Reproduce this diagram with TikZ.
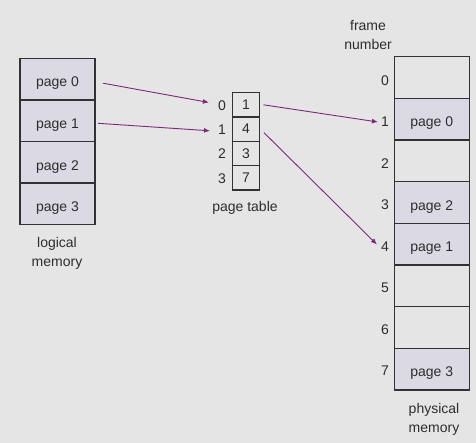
\documentclass[tikz,border=0pt]{standalone}
\usepackage{fontspec}
\setmainfont{Liberation Sans}
\usetikzlibrary{arrows.meta}
\definecolor{bg}{RGB}{229,229,229}
\definecolor{cellfill}{RGB}{219,217,227}
\definecolor{edge}{RGB}{50,50,50}
\definecolor{arr}{RGB}{125,40,125}
\definecolor{txt}{RGB}{45,45,45}
\begin{document}
\begin{tikzpicture}[x=1pt,y=-1pt,
  font=\fontsize{14}{16}\selectfont, text=txt,
  memcell/.style={draw=edge, line width=1.4pt, minimum width=75pt, minimum height=41.6pt, inner sep=0pt, outer sep=0pt, text height=15.5pt, text depth=0pt},
  full/.style={memcell, fill=cellfill},
  emptycell/.style={memcell},
  ptcell/.style={draw=edge, line width=1.4pt, minimum width=27pt, minimum height=24.3pt, inner sep=0pt, outer sep=0pt},
  lbl/.style={inner sep=0pt},
  link/.style={draw=arr, line width=0.9pt, -{Latex[length=6pt,width=5pt]}},
  caption/.style={align=center, inner sep=0pt, font=\fontsize{14}{19}\selectfont}]
\fill[bg] (0,0) rectangle (476,443);
\useasboundingbox (0,0) rectangle (476,443);

% logical memory
\node[full] (L0) at (57.5,79.2) {page 0};
\node[full] (L1) at (57.5,120.8) {page 1};
\node[full] (L2) at (57.5,162.4) {page 2};
\node[full] (L3) at (57.5,204.0) {page 3};
\node[caption] (lcap) at (57,253) {logical\\memory};

% page table
\node[ptcell] (P0) at (246,104.8) {1};
\node[ptcell] (P1) at (246,129.1) {4};
\node[ptcell] (P2) at (246,153.4) {3};
\node[ptcell] (P3) at (246,177.7) {7};
\node[lbl] (i0) at (222,105.5) {0};
\node[lbl] (i1) at (222,129.8) {1};
\node[lbl] (i2) at (222,154.1) {2};
\node[lbl] (i3) at (222,178.4) {3};
\node[caption] (ptcap) at (245,208) {page table};

% physical memory
\node[emptycell] (F0) at (431.7,77.5) {};
\node[full] (F1) at (431.7,119.2) {page 0};
\node[emptycell] (F2) at (431.7,160.8) {};
\node[full] (F3) at (431.7,202.5) {page 2};
\node[full] (F4) at (431.7,244.1) {page 1};
\node[emptycell] (F5) at (431.7,285.8) {};
\node[emptycell] (F6) at (431.7,327.4) {};
\node[full] (F7) at (431.7,369.1) {page 3};
\node[lbl] (f0) at (385,80.5) {0};
\node[lbl] (f1) at (385,122) {1};
\node[lbl] (f2) at (385,163.5) {2};
\node[lbl] (f3) at (385,205) {3};
\node[lbl] (f4) at (385,246.5) {4};
\node[lbl] (f5) at (385,288) {5};
\node[lbl] (f6) at (385,329.5) {6};
\node[lbl] (f7) at (385,371) {7};
\node[caption] (fcap) at (368,35) {frame\\number};
\node[caption] (pcap) at (434,419.5) {physical\\memory};

% arrows
\draw[link] ([xshift=8pt,yshift=-4pt]L0.east) -- ([xshift=-9pt,yshift=3pt]i0.west);
\draw[link] ([xshift=3pt,yshift=-2.5pt]L1.east) -- ([xshift=-8pt,yshift=-1pt]i1.west);
\draw[link] ([xshift=4pt]P0.east) -- ([xshift=-3pt]f1.west);
\draw[link] ([xshift=4.5pt,yshift=-3.6pt]P1.east) -- ([xshift=-4pt,yshift=2pt]f4.west);
\end{tikzpicture}
\end{document}
